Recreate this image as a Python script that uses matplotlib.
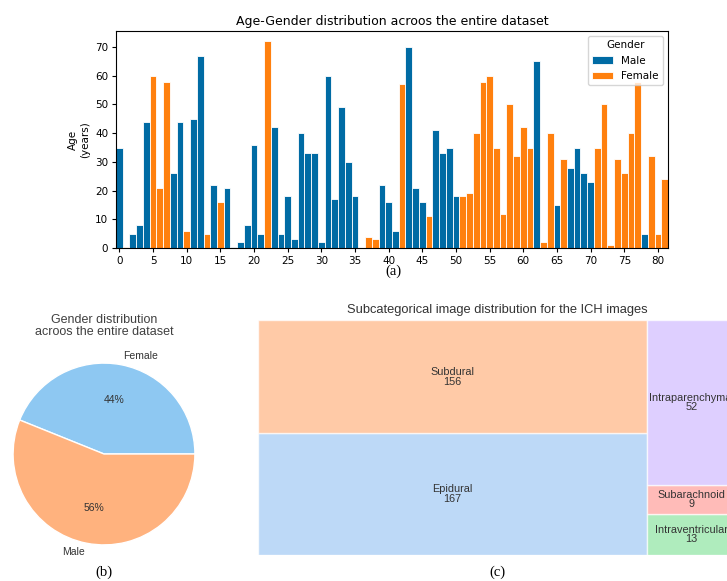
import matplotlib
matplotlib.use("Agg")
import matplotlib.pyplot as plt
import numpy as np

# age of each subject (index = subject id) and its gender
ages = [35, 0.5, 5, 8, 44, 60, 21, 58, 26, 44, 6, 45, 67, 5, 22, 16, 21, 0.5, 2, 8,
        36, 5, 72, 42, 5, 18, 3, 40, 33, 33, 2, 60, 17, 49, 30, 18, 0, 4, 3, 22,
        16, 6, 57, 70, 21, 16, 11, 41, 33, 35, 18, 18, 19, 40, 58, 60, 35, 12, 50, 32,
        42, 35, 65, 2, 40, 15, 31, 28, 35, 26, 23, 35, 50, 1, 31, 26, 40, 58, 5, 32,
        5, 24]
genders = list("MFMMMFFFMMFMMFMFMMMM"
               "MMFMMMMMMMMMMMMMMFFM"
               "MMFMMMFMMMMFFFFFFFFF"
               "FFMFFMFMMMMFFFFFFFMF"
               "FF")

# ICH subcategories (treemap)
ich_labels = ["Epidural", "Subdural", "Intraventricular", "Subarachnoid", "Intraparenchymal"]
ich_counts = [167, 156, 13, 9, 52]
ich_colors = ["#a1c9f4", "#ffb482", "#8de5a1", "#ff9f9b", "#d0bbff"]

male_color = "#006BA4"
female_color = "#FF800E"
text_gray = "#333333"
sans = "Liberation Sans"


# --- squarified treemap layout (same algorithm as the squarify package) ---
def _col(sizes, x, y, dx, dy):
    w = sum(sizes) / dy
    rects = []
    for s in sizes:
        rects.append((x, y, w, s / w))
        y += s / w
    return rects


def _row(sizes, x, y, dx, dy):
    h = sum(sizes) / dx
    rects = []
    for s in sizes:
        rects.append((x, y, s / h, h))
        x += s / h
    return rects


def _layout(sizes, x, y, dx, dy):
    return _col(sizes, x, y, dx, dy) if dx >= dy else _row(sizes, x, y, dx, dy)


def _leftover(sizes, x, y, dx, dy):
    if dx >= dy:
        w = sum(sizes) / dy
        return x + w, y, dx - w, dy
    h = sum(sizes) / dx
    return x, y + h, dx, dy - h


def _worst(sizes, x, y, dx, dy):
    return max(max(r[2] / r[3], r[3] / r[2]) for r in _layout(sizes, x, y, dx, dy))


def squarify(sizes, x, y, dx, dy):
    if len(sizes) == 0:
        return []
    if len(sizes) == 1:
        return _layout(sizes, x, y, dx, dy)
    i = 1
    while i < len(sizes) and _worst(sizes[:i], x, y, dx, dy) >= _worst(sizes[:i + 1], x, y, dx, dy):
        i += 1
    cur, rest = sizes[:i], sizes[i:]
    return _layout(cur, x, y, dx, dy) + squarify(rest, *_leftover(cur, x, y, dx, dy))


fig = plt.figure(figsize=(7.27, 5.81), dpi=100)

# --- (a) age-gender bar chart ---
ax1 = fig.add_axes([116 / 727, 1 - 248 / 581, 552 / 727, 217 / 581])
idx = np.arange(len(ages))
ages_arr = np.array(ages)
g = np.array(genders)
ax1.bar(idx[g == "M"], ages_arr[g == "M"], width=1.0, color=male_color,
        edgecolor="white", linewidth=0.6, label="Male")
ax1.bar(idx[g == "F"], ages_arr[g == "F"], width=1.0, color=female_color,
        edgecolor="white", linewidth=0.6, label="Female")
ax1.set_xlim(-0.5, len(ages) - 0.5)
ax1.set_xticks(np.arange(0, len(ages), 5))
ax1.set_yticks(np.arange(0, 71, 10))
ax1.tick_params(labelsize=7.5, length=3, pad=2.5)
ax1.set_ylabel("Age\n(years)", fontsize=7.5)
ax1.set_title("Age-Gender distribution acroos the entire dataset", fontsize=9, pad=4)
ax1.legend(title="Gender", loc="upper right", fontsize=7.5, title_fontsize=7.5)
fig.text(393 / 727, 1 - 271 / 581, "(a)", ha="center", va="center",
         fontsize=10.5, family="Liberation Serif")

# --- (b) gender pie ---
ax2 = fig.add_axes([4 / 727, 27 / 581, 200 / 727, 200 / 581])
n_female = genders.count("F")
n_male = genders.count("M")
wedges, texts, autotexts = ax2.pie(
    [n_female, n_male], labels=["Female", "Male"], colors=["#8EC8F2", "#FFB27E"],
    autopct="%1.0f%%", startangle=0,
    wedgeprops=dict(edgecolor="white", linewidth=1),
    textprops=dict(fontsize=7.5, color=text_gray, family=sans))
ax2.set_xlim(-1.1, 1.1)
ax2.set_ylim(-1.1, 1.1)
ax2.set_aspect("equal")
fig.text(104 / 727, 1 - 326 / 581, "Gender distribution\nacroos the entire dataset",
         ha="center", va="center", fontsize=9, color="#404040", family=sans,
         linespacing=1.05)
fig.text(104 / 727, 1 - 572 / 581, "(b)", ha="center", va="center",
         fontsize=10.5, family="Liberation Serif")

# --- (c) ICH treemap ---
ax3 = fig.add_axes([258 / 727, 26 / 581, 478 / 727, 235 / 581])
total = sum(ich_counts)
norm = [c * 100 * 100 / total for c in ich_counts]
rects = squarify(norm, 0, 0, 100, 100)
for (rx, ry, rw, rh), lab, cnt, col in zip(rects, ich_labels, ich_counts, ich_colors):
    ax3.bar(rx, rh, width=rw, bottom=ry, align="edge", color=col, alpha=0.7,
            edgecolor="white", linewidth=1)
    ax3.text(rx + rw / 2, ry + rh / 2, f"{lab}\n{cnt}", ha="center", va="center",
             fontsize=7.8, color=text_gray, family=sans, linespacing=0.95)
ax3.set_xlim(0, 100)
ax3.set_ylim(0, 100)
ax3.axis("off")
ax3.set_title("Subcategorical image distribution for the ICH images", fontsize=9.3,
              color=text_gray, family=sans, pad=5)
fig.text(497 / 727, 1 - 572 / 581, "(c)", ha="center", va="center",
         fontsize=10.5, family="Liberation Serif")

fig.savefig("out.png", dpi=100)
plt.close(fig)
